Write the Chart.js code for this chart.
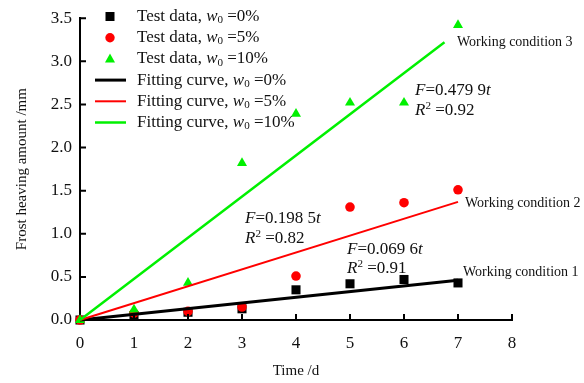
<!DOCTYPE html>
<html>
<head>
<meta charset="utf-8">
<script src="https://cdn.jsdelivr.net/npm/chart.js@4.4.1/dist/chart.umd.min.js"></script>
<style>
  html, body { margin: 0; padding: 0; background: #fff; }
  #wrap { width: 584px; height: 383px; }
</style>
</head>
<body>
<div id="wrap"><canvas id="frostChart" width="584" height="383"></canvas></div>
<script>
// measured data (time in days, frost heave in mm)
const days = [0, 1, 2, 3, 4, 5, 6, 7];
const heave0 = [0, 0.05, 0.09, 0.13, 0.35, 0.42, 0.47, 0.43];
const heave5 = [0, 0.08, 0.10, 0.15, 0.51, 1.31, 1.36, 1.51];
const heave10 = [0, 0.12, 0.43, 1.82, 2.39, 2.52, 2.52, 3.42];

// fitted lines, end points
const fitDays0 = [0, 7];
const fitVals0 = [0, 0.46];
const fitDays5 = [0, 7];
const fitVals5 = [0, 1.37];
const fitDays10 = [0, 6.75];
const fitVals10 = [0, 3.22];

const xTicks = [0, 1, 2, 3, 4, 5, 6, 7, 8];
const yTicks = [0, 0.5, 1.0, 1.5, 2.0, 2.5, 3.0, 3.5];

const GREEN = "#00f000";
const SERIF = "'Liberation Serif', 'Times New Roman', serif";

function toPoints(xs, ys) {
    return xs.map((x, i) => ({ x: x, y: ys[i] }));
}

// draws a run of text pieces: n = normal, i = italic, sub / sup
function drawRich(ctx, x, y, parts, size) {
    ctx.save();
    ctx.textBaseline = "middle";
    ctx.textAlign = "left";
    ctx.fillStyle = "#111";
    parts.forEach(p => {
        let [txt, st] = p;
        let fs = size, dy = 0, style = "";
        if (st === "i") style = "italic ";
        if (st === "sub") { fs = size * 0.65; dy = size * 0.22; }
        if (st === "sup") { fs = size * 0.65; dy = -size * 0.3; }
        ctx.font = style + fs + "px " + SERIF;
        ctx.fillText(txt, x, y + dy);
        x += ctx.measureText(txt).width;
    });
    ctx.restore();
}

const legendRows = [
    { kind: "rect", color: "#000", label: "Test data, ", pct: "0%" },
    { kind: "circle", color: "#f00", label: "Test data, ", pct: "5%" },
    { kind: "triangle", color: GREEN, label: "Test data, ", pct: "10%" },
    { kind: "line", color: "#000", label: "Fitting curve, ", pct: "0%", width: 3 },
    { kind: "line", color: "#f00", label: "Fitting curve, ", pct: "5%", width: 2 },
    { kind: "line", color: GREEN, label: "Fitting curve, ", pct: "10%", width: 2.5 }
];

const notes = [
    { x: 457, y: 42, parts: [["Working condition 3", "n"]], size: 14 },
    { x: 465, y: 203, parts: [["Working condition 2", "n"]], size: 14 },
    { x: 463, y: 272, parts: [["Working condition 1", "n"]], size: 14 },
    { x: 415, y: 91, parts: [["F", "i"], ["=0.479 9", "n"], ["t", "i"]], size: 17 },
    { x: 415, y: 111, parts: [["R", "i"], ["2", "sup"], [" =0.92", "n"]], size: 17 },
    { x: 245, y: 219, parts: [["F", "i"], ["=0.198 5", "n"], ["t", "i"]], size: 17 },
    { x: 245, y: 239, parts: [["R", "i"], ["2", "sup"], [" =0.82", "n"]], size: 17 },
    { x: 347, y: 250, parts: [["F", "i"], ["=0.069 6", "n"], ["t", "i"]], size: 17 },
    { x: 347, y: 269, parts: [["R", "i"], ["2", "sup"], [" =0.91", "n"]], size: 17 }
];

const decorPlugin = {
    id: "decor",
    afterDraw(chart) {
        const ctx = chart.ctx;
        const xs = chart.scales.x, ys = chart.scales.y;
        // inward tick marks
        ctx.save();
        ctx.strokeStyle = "#000";
        ctx.lineWidth = 2;
        ctx.beginPath();
        xTicks.forEach(v => {
            if (v === 0) return;
            const px = xs.getPixelForValue(v);
            ctx.moveTo(px, ys.bottom);
            ctx.lineTo(px, ys.bottom - 6);
        });
        yTicks.forEach(v => {
            if (v === 0) return;
            const py = ys.getPixelForValue(v);
            ctx.moveTo(xs.left, py);
            ctx.lineTo(xs.left + 6, py);
        });
        ctx.stroke();
        ctx.restore();

        // legend
        legendRows.forEach((r, i) => {
            const cy = 16.5 + i * 21.2;
            const mx = 110;
            ctx.save();
            ctx.fillStyle = r.color;
            ctx.strokeStyle = r.color;
            if (r.kind === "rect") {
                ctx.fillRect(mx - 4.5, cy - 4.5, 9, 9);
            } else if (r.kind === "circle") {
                ctx.beginPath();
                ctx.arc(mx, cy, 4.7, 0, Math.PI * 2);
                ctx.fill();
            } else if (r.kind === "triangle") {
                ctx.beginPath();
                ctx.moveTo(mx, cy - 5.5);
                ctx.lineTo(mx + 5, cy + 3.5);
                ctx.lineTo(mx - 5, cy + 3.5);
                ctx.closePath();
                ctx.fill();
            } else {
                ctx.lineWidth = r.width;
                ctx.beginPath();
                ctx.moveTo(95, cy);
                ctx.lineTo(126, cy);
                ctx.stroke();
            }
            ctx.restore();
            drawRich(ctx, 137, cy, [[r.label, "n"], ["w", "i"], ["0", "sub"], [" =" + r.pct, "n"]], 17);
        });

        notes.forEach(n => drawRich(ctx, n.x, n.y, n.parts, n.size));
    }
};

const ctx = document.getElementById("frostChart").getContext("2d");
// datasets are drawn last-to-first, so the lines sit on top of the markers
const frostChart = new Chart(ctx, {
    type: "scatter",
    data: {
        datasets: [
            { data: toPoints(fitDays10, fitVals10), showLine: true, borderColor: GREEN, borderWidth: 2.5, pointRadius: 0, clip: false },
            { data: toPoints(fitDays5, fitVals5), showLine: true, borderColor: "#f00", borderWidth: 2, pointRadius: 0, clip: false },
            { data: toPoints(fitDays0, fitVals0), showLine: true, borderColor: "#000", borderWidth: 3, pointRadius: 0, clip: false },
            { data: toPoints(days, heave10), pointStyle: "triangle", pointRadius: 5.8, backgroundColor: GREEN, borderWidth: 0, clip: false },
            { data: toPoints(days, heave5), pointStyle: "circle", pointRadius: 4.8, backgroundColor: "#f00", borderWidth: 0, clip: false },
            { data: toPoints(days, heave0), pointStyle: "rect", pointRadius: 6.4, backgroundColor: "#000", borderWidth: 0, clip: false }
        ]
    },
    options: {
        responsive: false,
        animation: false,
        layout: { padding: { left: 0, right: 72, top: 17, bottom: 0 } },
        plugins: { legend: { display: false }, tooltip: { enabled: false } },
        scales: {
            x: {
                type: "linear",
                min: 0, max: 8,
                afterFit: s => { s.height = 63; },
                afterBuildTicks: s => { s.ticks = xTicks.map(v => ({ value: v })); },
                grid: { display: false, drawTicks: false },
                border: { display: true, color: "#000", width: 2 },
                ticks: { color: "#111", padding: 13, font: { family: SERIF, size: 17 }, callback: v => String(v) },
                title: { display: true, text: "Time /d", color: "#111", padding: { top: 0, bottom: 3 }, font: { family: SERIF, size: 15 } }
            },
            y: {
                type: "linear",
                min: 0, max: 3.5,
                afterFit: s => { s.width = 80; },
                afterBuildTicks: s => { s.ticks = yTicks.map(v => ({ value: v })); },
                grid: { display: false, drawTicks: false },
                border: { display: true, color: "#000", width: 2 },
                ticks: { color: "#111", padding: 8, font: { family: SERIF, size: 17 }, callback: v => Number(v).toFixed(1) },
                title: { display: true, text: "Frost heaving amount /mm", color: "#111", padding: { top: 13, bottom: 0 }, font: { family: SERIF, size: 15 } }
            }
        }
    },
    plugins: [decorPlugin]
});
</script>
</body>
</html>
